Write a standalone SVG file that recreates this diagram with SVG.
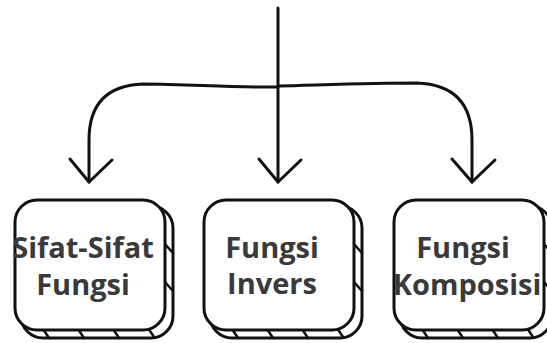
<svg xmlns="http://www.w3.org/2000/svg" width="547" height="343" viewBox="0 0 547 343">
<style>
.ln{fill:none;stroke:#111;stroke-width:3;stroke-linecap:round;stroke-linejoin:round}
.front{fill:#fff;stroke:#111;stroke-width:3}
.back{fill:#fff;stroke:#111;stroke-width:3}
.st{stroke:#111;stroke-width:2.5;stroke-linecap:round}
.t{font-family:"Open Sans","Liberation Sans",sans-serif;font-weight:700;font-size:29px;fill:#3a3a3a;text-anchor:middle}
</style>
<defs>
<g id="key">
<rect class="back" x="6" y="6" width="152" height="132" rx="22"/>
<line class="st" x1="28" y1="129" x2="34" y2="138"/>
<line class="st" x1="63" y1="129" x2="69" y2="138"/>
<line class="st" x1="98" y1="129" x2="104" y2="138"/>
<line class="st" x1="133" y1="128" x2="139" y2="137"/>
<line class="st" x1="150" y1="44" x2="157" y2="52"/>
<line class="st" x1="150" y1="82" x2="157" y2="90"/>
<rect class="front" x="0" y="0" width="150" height="130" rx="22"/>
</g>
</defs>
<g id="connectors">
<path class="ln" d="M278,8 L278,182"/>
<path class="ln" d="M278,87 C230,88 190,84 143,84 Q89,86 89,140 L89,182"/>
<path class="ln" d="M278,86 C320,85 370,83 417,83 Q472,85 472,140 L472,182"/>
<polyline class="ln" points="70,159 89,182 112,160"/>
<polyline class="ln" points="259,159 278,182 301,160"/>
<polyline class="ln" points="452,159 472,182 495,160"/>
</g>
<g id="node-sifat">
<use href="#key" x="15" y="200"/>
<text class="t" x="83" y="258">Sifat-Sifat</text>
<text class="t" x="83" y="295">Fungsi</text>
</g>
<g id="node-invers">
<use href="#key" x="204" y="200"/>
<text class="t" x="272" y="258">Fungsi</text>
<text class="t" x="272" y="294">Invers</text>
</g>
<g id="node-komposisi">
<use href="#key" x="394" y="200"/>
<text class="t" x="463" y="258">Fungsi</text>
<text class="t" x="467" y="295">Komposisi</text>
</g>
</svg>
